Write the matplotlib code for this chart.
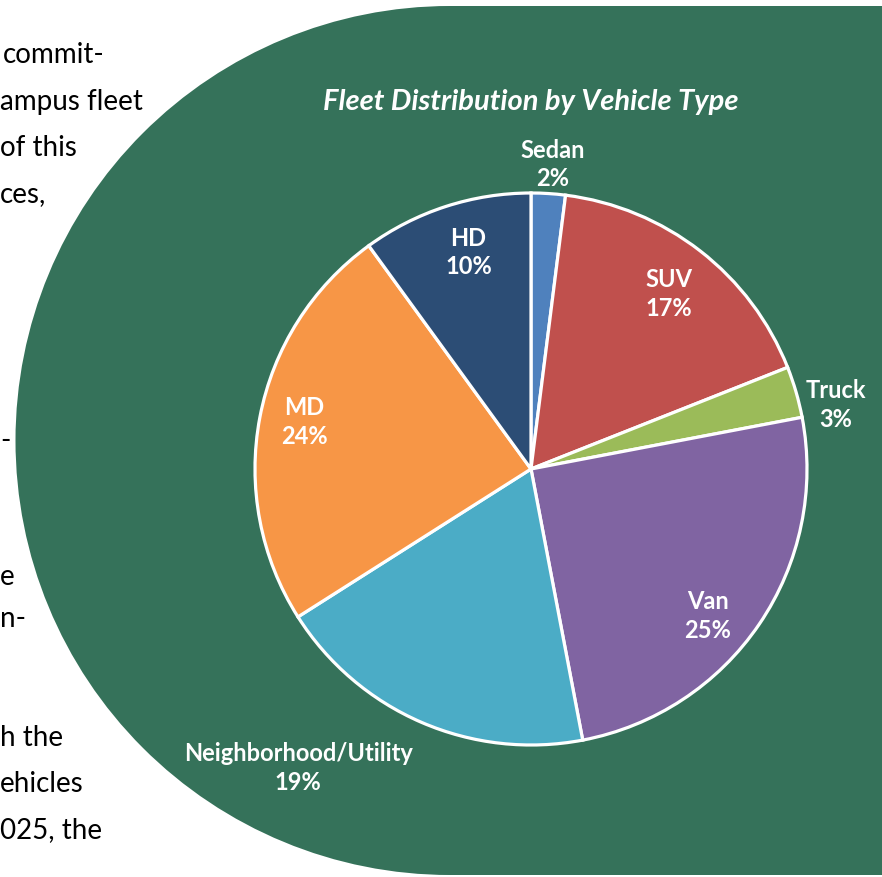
import numpy as np
import matplotlib.pyplot as plt
from matplotlib.patches import Circle, Rectangle

categories = ['Sedan', 'SUV', 'Truck', 'Van', 'Neighborhood/Utility', 'MD', 'HD']
shares = [2, 17, 3, 25, 19, 24, 10]
colors = ['#4F81BD', '#C0504D', '#9BBB59', '#8064A2', '#4BACC6', '#F79646', '#2C4D75']

# label placement: degrees clockwise from 12 o'clock, distance in pie radii
label_angle = [4, 38, 78, 129.5, 218, 282, 344]
label_dist = [1.11, 0.81, 1.13, 0.83, 1.37, 0.84, 0.82]

# body text running down the left margin (x = left end, y = baseline, px)
body_text = ['commit-', 'ampus fleet', 'of this', 'ces,', '-', 'e', 'n-',
             'h the', 'ehicles', '025, the']
body_x = [3, 0, 0, 0, 0, 0, 0, 0, 0, 0]
body_y = [63, 110, 156, 202, 449, 585, 627, 746, 792, 838]

W, H = 882, 878
green = '#35725A'


def Y(y):
    return H - y


fig = plt.figure(figsize=(W / 100, H / 100), dpi=100)
ax = fig.add_axes([0, 0, 1, 1])

# rounded green panel behind the chart
ax.add_patch(Circle((450, Y(441.5)), 434.5, color=green, lw=0, zorder=0))
ax.add_patch(Rectangle((450, Y(876)), 440, 869, color=green, lw=0, zorder=0))

cx, cy, R = 531, Y(470), 276
ax.pie(shares, colors=colors, startangle=90, counterclock=False,
       center=(cx, cy), radius=R,
       wedgeprops=dict(edgecolor='white', linewidth=2.3, zorder=2))

for name, val, ang, d in zip(categories, shares, label_angle, label_dist):
    t = np.deg2rad(ang)
    ax.text(cx + d * R * np.sin(t), cy + d * R * np.cos(t), f'{name}\n{val}%',
            ha='center', va='center', color='white', fontsize=17,
            fontfamily='Lato', fontweight='bold', linespacing=1.3, zorder=5)

ax.text(531, Y(102), 'Fleet Distribution by Vehicle Type', ha='center', va='center',
        color='white', fontsize=21, fontfamily='Lato', fontweight='bold',
        fontstyle='italic', zorder=5)

for s, x, y in zip(body_text, body_x, body_y):
    ax.text(x, Y(y), s, ha='left', va='baseline', color='black', fontsize=20,
            fontfamily='Lato', zorder=5)

ax.set_xlim(0, W)
ax.set_ylim(0, H)
ax.set_aspect('equal')
ax.axis('off')

fig.savefig('out.png', dpi=100, facecolor='white')
